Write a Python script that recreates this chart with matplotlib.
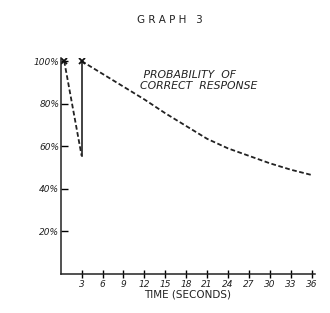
import matplotlib
matplotlib.use("Agg")
import matplotlib.pyplot as plt

# data
t_drop = [0.5, 3]
p_drop = [100, 55.5]
t_reset = [3, 3]
p_reset = [55.5, 100]
t_decay = [3, 6, 9, 12, 15, 18, 21, 24, 27, 30, 33, 36]
p_decay = [100, 94, 88, 82, 75.5, 69.5, 63.5, 59, 55.5, 52, 49, 46.5]
t_marks = [0.5, 3]
p_marks = [100, 100]
x_ticks = [3, 6, 9, 12, 15, 18, 21, 24, 27, 30, 33, 36]
y_ticks = [20, 40, 60, 80, 100]
y_labels = ["20%", "40%", "60%", "80%", "100%"]

fig = plt.figure(figsize=(3.3, 3.13), dpi=100)
ax = fig.add_axes([0.184, 0.1246, 0.955 - 0.184, 0.815 - 0.1246])

dash = dict(color="#222222", lw=1.3, linestyle=(0, (2.6, 1.4)))
ax.plot(t_drop, p_drop, **dash)
ax.plot(t_decay, p_decay, **dash)
ax.plot(t_reset, p_reset, color="#222222", lw=1.2)
ax.plot(t_marks, p_marks, "x", color="#111111", ms=4, mew=1.3)

ax.set_xlim(0, 36.5)
ax.set_ylim(0, 101.5)
for s in ["top", "right"]:
    ax.spines[s].set_visible(False)
for s in ["left", "bottom"]:
    ax.spines[s].set_linewidth(1.1)
    ax.spines[s].set_color("#222222")

ax.set_xticks(x_ticks)
ax.set_xticklabels([str(v) for v in x_ticks], fontsize=6.5, style="italic", color="#222222")
ax.set_yticks(y_ticks)
ax.set_yticklabels(y_labels, fontsize=6.5, style="italic", color="#222222")
ax.tick_params(axis="x", direction="inout", length=6, width=1, pad=1)
ax.tick_params(axis="y", direction="in", length=5, width=1, pad=1)

ax.set_xlabel("TIME (SECONDS)", fontsize=7.5, color="#222222", labelpad=1)

fig.text(0.515, 0.935, "G R A P H   3", fontsize=7.5, ha="center", va="center", color="#222222")
ax.text(11.4, 90.8, " PROBABILITY  OF\nCORRECT  RESPONSE", fontsize=7.8, style="italic",
        ha="left", va="center", color="#222222", linespacing=1.15)

fig.savefig("out.png", dpi=100, facecolor="white")
